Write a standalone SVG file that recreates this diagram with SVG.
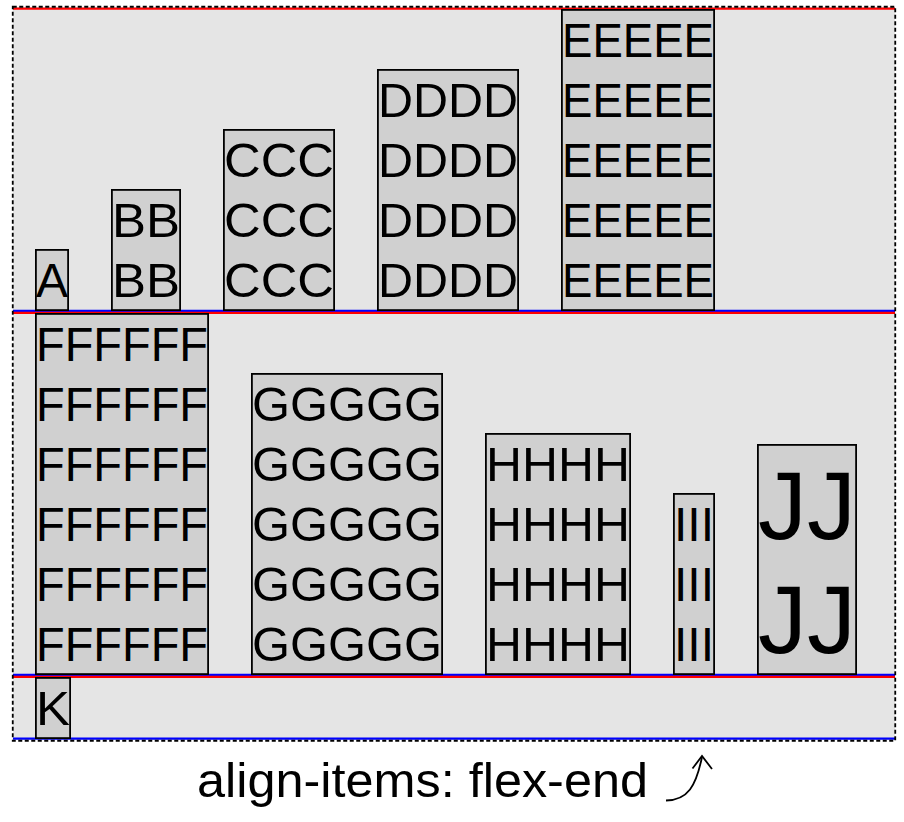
<svg xmlns="http://www.w3.org/2000/svg" width="904" height="822" viewBox="0 0 904 822">
<style>
.bg{fill:#e5e5e5;stroke:none}
.frame{fill:none;stroke:#000;stroke-width:1.8;stroke-dasharray:4 2.5}
.box{fill:#d0d0d0;stroke:#000;stroke-width:1.8}
.t{font-family:"Liberation Sans",Arial,Helvetica,sans-serif;font-size:48px;fill:#000}
.big{font-size:96px}
.red{stroke:#f00;stroke-width:2.2;fill:none}
.blue{stroke:#00f;stroke-width:2.2;fill:none}
.arr{stroke:#000;stroke-width:1.8;fill:none}
</style>
<rect class="bg" x="13" y="7" width="882" height="733"/>
<g id="connectors">
<line class="red" x1="13" y1="8.6" x2="895" y2="8.6"/>
<line class="blue" x1="13" y1="310.8" x2="895" y2="310.8"/>
<line class="red" x1="13" y1="312.8" x2="895" y2="312.8"/>
<line class="blue" x1="13" y1="674.9" x2="895" y2="674.9"/>
<line class="red" x1="13" y1="676.9" x2="895" y2="676.9"/>
<line class="blue" x1="13" y1="738.6" x2="895" y2="738.6"/>
</g>
<rect class="frame" x="12.75" y="6.75" width="882.5" height="734"/>
<g id="A"><rect class="box" x="35.9" y="249.9" width="32.2" height="60.2"/>
<text class="t" x="36" y="297" textLength="32" lengthAdjust="spacingAndGlyphs">A</text></g>
<g id="B"><rect class="box" x="111.9" y="189.9" width="68.2" height="120.2"/>
<text class="t" x="112" y="237" textLength="68" lengthAdjust="spacingAndGlyphs">BB</text>
<text class="t" x="112" y="297" textLength="68" lengthAdjust="spacingAndGlyphs">BB</text></g>
<g id="C"><rect class="box" x="223.9" y="129.9" width="110.2" height="180.2"/>
<text class="t" x="224" y="177" textLength="110" lengthAdjust="spacingAndGlyphs">CCC</text>
<text class="t" x="224" y="237" textLength="110" lengthAdjust="spacingAndGlyphs">CCC</text>
<text class="t" x="224" y="297" textLength="110" lengthAdjust="spacingAndGlyphs">CCC</text></g>
<g id="D"><rect class="box" x="377.9" y="69.9" width="140.2" height="240.2"/>
<text class="t" x="378" y="117" textLength="140" lengthAdjust="spacingAndGlyphs">DDDD</text>
<text class="t" x="378" y="177" textLength="140" lengthAdjust="spacingAndGlyphs">DDDD</text>
<text class="t" x="378" y="237" textLength="140" lengthAdjust="spacingAndGlyphs">DDDD</text>
<text class="t" x="378" y="297" textLength="140" lengthAdjust="spacingAndGlyphs">DDDD</text></g>
<g id="E"><rect class="box" x="561.9" y="9.9" width="152.2" height="300.2"/>
<text class="t" x="562" y="57" textLength="152" lengthAdjust="spacingAndGlyphs">EEEEE</text>
<text class="t" x="562" y="117" textLength="152" lengthAdjust="spacingAndGlyphs">EEEEE</text>
<text class="t" x="562" y="177" textLength="152" lengthAdjust="spacingAndGlyphs">EEEEE</text>
<text class="t" x="562" y="237" textLength="152" lengthAdjust="spacingAndGlyphs">EEEEE</text>
<text class="t" x="562" y="297" textLength="152" lengthAdjust="spacingAndGlyphs">EEEEE</text></g>
<g id="F"><rect class="box" x="35.9" y="313.9" width="172.2" height="360.2"/>
<text class="t" x="36" y="361" textLength="172" lengthAdjust="spacingAndGlyphs">FFFFFF</text>
<text class="t" x="36" y="421" textLength="172" lengthAdjust="spacingAndGlyphs">FFFFFF</text>
<text class="t" x="36" y="481" textLength="172" lengthAdjust="spacingAndGlyphs">FFFFFF</text>
<text class="t" x="36" y="541" textLength="172" lengthAdjust="spacingAndGlyphs">FFFFFF</text>
<text class="t" x="36" y="601" textLength="172" lengthAdjust="spacingAndGlyphs">FFFFFF</text>
<text class="t" x="36" y="661" textLength="172" lengthAdjust="spacingAndGlyphs">FFFFFF</text></g>
<g id="G"><rect class="box" x="251.9" y="373.9" width="190.2" height="300.2"/>
<text class="t" x="252" y="421" textLength="190" lengthAdjust="spacingAndGlyphs">GGGGG</text>
<text class="t" x="252" y="481" textLength="190" lengthAdjust="spacingAndGlyphs">GGGGG</text>
<text class="t" x="252" y="541" textLength="190" lengthAdjust="spacingAndGlyphs">GGGGG</text>
<text class="t" x="252" y="601" textLength="190" lengthAdjust="spacingAndGlyphs">GGGGG</text>
<text class="t" x="252" y="661" textLength="190" lengthAdjust="spacingAndGlyphs">GGGGG</text></g>
<g id="H"><rect class="box" x="485.9" y="433.9" width="144.2" height="240.2"/>
<text class="t" x="486" y="481" textLength="144" lengthAdjust="spacingAndGlyphs">HHHH</text>
<text class="t" x="486" y="541" textLength="144" lengthAdjust="spacingAndGlyphs">HHHH</text>
<text class="t" x="486" y="601" textLength="144" lengthAdjust="spacingAndGlyphs">HHHH</text>
<text class="t" x="486" y="661" textLength="144" lengthAdjust="spacingAndGlyphs">HHHH</text></g>
<g id="I"><rect class="box" x="673.9" y="493.9" width="40.2" height="180.2"/>
<text class="t" x="674" y="541" textLength="40" lengthAdjust="spacingAndGlyphs">III</text>
<text class="t" x="674" y="601" textLength="40" lengthAdjust="spacingAndGlyphs">III</text>
<text class="t" x="674" y="661" textLength="40" lengthAdjust="spacingAndGlyphs">III</text></g>
<g id="J"><rect class="box" x="757.9" y="444.9" width="98.2" height="229.2"/>
<text class="t big" x="758" y="538.5" textLength="98" lengthAdjust="spacingAndGlyphs">JJ</text>
<text class="t big" x="758" y="653" textLength="98" lengthAdjust="spacingAndGlyphs">JJ</text></g>
<g id="K"><rect class="box" x="35.9" y="677.9" width="34.2" height="60.2"/>
<text class="t" x="36" y="725" textLength="34" lengthAdjust="spacingAndGlyphs">K</text></g>
<g id="caption">
<text class="t" x="197" y="796.5" textLength="451" lengthAdjust="spacingAndGlyphs">align-items: flex-end</text>
<path class="arr" d="M666,800.5 C688,800 696,786 702,757"/>
<polyline class="arr" points="692.5,768.5 702,756 712,769"/>
</g>
</svg>
